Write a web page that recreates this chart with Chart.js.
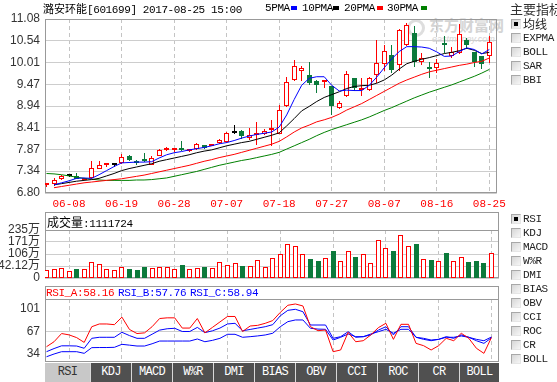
<!DOCTYPE html>
<html><head><meta charset="utf-8">
<script src="https://cdn.jsdelivr.net/npm/chart.js@4.4.0/dist/chart.umd.min.js"></script>
<style>
body{margin:0;background:#fff;width:557px;height:382px;overflow:hidden;position:relative;font-family:"Liberation Sans","Noto Sans CJK SC",sans-serif;}
.abs{position:absolute;white-space:nowrap;}
.m{font-family:"Liberation Mono","Noto Sans CJK SC",monospace;font-size:11px;letter-spacing:-0.4px;line-height:12px;}
.cjk{font-family:"Noto Sans CJK SC",sans-serif;letter-spacing:0;}
canvas{position:absolute;left:0;}
.sw{position:absolute;top:6px;width:6px;height:4px;}
.cb{position:absolute;width:8px;height:8px;border:1px solid;border-color:#a8a8a8 #e6e6e6 #e6e6e6 #a8a8a8;background:linear-gradient(135deg,#d6d6d6,#f6f6f6);}
.cb.on::after{content:'';position:absolute;left:2px;top:2px;width:4px;height:4px;background:#000;}
.tab{position:absolute;top:363px;height:19px;line-height:19px;text-align:center;font-family:"Liberation Mono",monospace;font-size:12px;letter-spacing:-0.7px;}
</style></head><body>
<div class="abs" style="left:405px;top:16px;">
  <div style="position:absolute;left:2px;top:3px;width:12px;height:12px;border:3px solid #dedede;border-radius:50%;"></div>
  <div style="position:absolute;left:24px;top:-2px;font:bold 15px 'Noto Sans CJK SC';color:#d4d4d4;white-space:nowrap;">东方财富网</div>
  <div style="position:absolute;left:27px;top:18px;font:italic 9px 'Liberation Sans';color:#d4d4d4;white-space:nowrap;">eastmoney.com</div>
</div>
<canvas id="c1" width="510" height="212" style="top:0"></canvas>
<canvas id="c2" width="510" height="80" style="top:212px"></canvas>
<canvas id="c3" width="510" height="92" style="top:286px"></canvas>
<div id="ui"></div>
<script>
// ---------- data ----------
const dates = ['06-05','06-06','06-07','06-08','06-09','06-12','06-13','06-14','06-15','06-16',
'06-19','06-20','06-21','06-22','06-23','06-26','06-27','06-28','06-29','06-30',
'07-03','07-04','07-05','07-06','07-07','07-10','07-11','07-12','07-13','07-14',
'07-17','07-18','07-19','07-20','07-21','07-24','07-25','07-26','07-27','07-28',
'07-31','08-01','08-02','08-03','08-04','08-07','08-08','08-09','08-10','08-11',
'08-14','08-15','08-16','08-17','08-18','08-21','08-22','08-23','08-24','08-25'];
const xTickLabels = ['06-08','06-19','06-28','07-07','07-18','07-27','08-07','08-16','08-25'];
const priceTicks = [6.80,7.34,7.87,8.41,8.94,9.47,10.01,10.54,11.08];

const open = [6.99,7.02,7.14,7.23,7.22,7.13,7.17,7.40,7.48,7.49,
7.54,7.71,7.58,7.60,7.50,7.72,7.87,7.85,7.90,7.84,
7.88,7.98,7.96,8.03,8.06,8.27,8.33,8.16,8.23,8.25,
8.36,8.26,8.94,9.58,9.81,9.71,9.56,9.53,9.43,8.90,
9.19,9.62,9.33,9.34,9.71,9.97,10.20,9.95,10.44,10.73,
10.03,9.91,9.88,10.50,10.16,10.24,10.57,10.26,10.18,10.17];
const close = [7.00,7.13,7.22,7.23,7.15,7.14,7.41,7.49,7.49,7.49,
7.68,7.60,7.53,7.58,7.67,7.86,7.88,7.86,7.85,7.85,
8.01,7.90,7.97,8.11,8.27,8.27,8.19,8.23,8.27,8.33,
8.37,8.85,9.54,9.93,9.87,9.50,9.46,9.54,8.94,9.01,
9.72,9.38,9.34,9.62,9.99,10.29,9.83,10.81,10.93,10.03,
10.13,9.85,9.99,10.44,10.28,10.70,10.44,10.03,9.97,10.51];
const high = [7.03,7.17,7.25,7.26,7.29,7.15,7.58,7.59,7.53,7.52,
7.76,7.73,7.60,7.79,7.70,7.88,7.93,7.90,8.09,7.87,
8.04,7.99,7.99,8.13,8.30,8.48,8.35,8.40,8.54,8.37,
8.60,8.97,9.66,10.06,9.93,10.02,9.58,9.58,9.44,9.07,
9.79,9.64,9.62,9.66,10.57,10.45,10.45,10.84,10.97,10.90,
10.25,10.03,10.10,10.66,10.38,10.95,10.61,10.28,10.18,10.66];
const low = [6.95,6.96,7.12,7.20,7.14,7.11,7.15,7.38,7.45,7.45,
7.52,7.58,7.50,7.57,7.48,7.70,7.84,7.82,7.84,7.82,
7.86,7.88,7.95,8.00,8.04,8.26,8.12,8.10,7.97,8.23,
7.96,8.24,8.92,9.56,9.55,9.46,9.27,9.38,8.72,8.86,
9.15,9.30,9.18,9.32,9.50,9.79,9.75,9.79,10.42,9.91,
9.94,9.64,9.76,10.24,10.11,10.22,10.35,9.91,9.85,9.99];

const ma5 = [null,7.00,7.05,7.10,7.16,7.17,7.16,7.25,7.35,7.45,
7.54,7.55,7.56,7.56,7.57,7.66,7.74,7.79,7.82,7.86,
7.89,7.92,7.96,8.01,8.04,8.09,8.15,8.20,8.24,8.27,
8.30,8.42,8.72,9.10,9.45,9.62,9.66,9.66,9.45,9.31,
9.33,9.32,9.32,9.45,9.65,9.88,10.10,10.28,10.40,10.40,
10.39,10.36,10.27,10.16,10.17,10.28,10.37,10.33,10.22,10.33];
const ma10 = [null,7.00,7.03,7.06,7.09,7.11,7.13,7.16,7.22,7.28,
7.35,7.40,7.44,7.48,7.52,7.58,7.62,7.66,7.70,7.74,
7.79,7.83,7.86,7.91,7.96,8.00,8.04,8.07,8.12,8.17,
8.22,8.28,8.45,8.63,8.82,8.93,9.05,9.15,9.22,9.29,
9.37,9.42,9.44,9.45,9.50,9.58,9.70,9.85,9.98,10.04,
10.09,10.13,10.18,10.23,10.26,10.30,10.36,10.31,10.23,10.26];
const ma20 = [null,6.93,6.96,6.99,7.02,7.05,7.07,7.09,7.11,7.13,
7.15,7.18,7.21,7.24,7.28,7.32,7.36,7.40,7.44,7.48,
7.53,7.58,7.62,7.67,7.71,7.75,7.80,7.85,7.90,7.95,
8.00,8.07,8.18,8.30,8.40,8.47,8.55,8.60,8.66,8.74,
8.84,8.92,9.00,9.10,9.20,9.30,9.40,9.50,9.58,9.65,
9.72,9.78,9.82,9.86,9.90,9.94,9.97,10.01,10.04,10.12];
const ma30 = [7.28,7.27,7.25,7.22,7.19,7.16,7.14,7.12,7.11,7.11,
7.11,7.11,7.12,7.12,7.13,7.15,7.17,7.21,7.25,7.29,
7.33,7.38,7.43,7.48,7.52,7.56,7.60,7.63,7.67,7.71,
7.75,7.80,7.88,7.96,8.04,8.12,8.21,8.29,8.36,8.42,
8.48,8.54,8.60,8.67,8.75,8.83,8.90,8.98,9.06,9.14,
9.21,9.28,9.34,9.40,9.46,9.53,9.60,9.67,9.75,9.84];

// volume in 万 (10k shares)
const volume = [22,28,31,17,28,28,63,52,28,22,
36,28,22,36,31,36,36,28,49,28,
31,36,31,63,49,58,43,43,72,36,
84,106,160,150,107,81,67,84,123,70,
123,88,107,58,182,137,123,208,150,162,
79,75,67,114,67,90,61,67,56,111.1724];
const volTickValues = [-22,42.12,106,171,235];
const volTickLabels = ['0','42.12万','106万','171万','235万'];

const rsiA = [44.7,52,64,62,58,51,74,78,78,77,
88,70,64,65,74,86,87,87,72,72,
86,65,73,81,89,89,67,75,76,79,
83,95,105.4,107.3,104.4,74,68.2,69.2,37.4,39.9,
65.8,52,53.5,61.9,72.6,79,55.5,77.5,77.5,49.6,
46.2,39.9,46.2,57,53.5,64.4,57,42.4,35,58.16];
const rsiB = [37.4,42,46,46,45.7,42.4,57,58.5,58.5,58.5,
65.8,61,57,57,63,69,71,71.7,67,67,
73,65.3,68,72,78,79,68,70,72,74,
77,90,98,99.5,96,76.5,76.5,76.5,57,59.4,
66.7,58.5,59.4,62,69,74,62,74,74,58.5,
55.5,53.5,55.5,59.4,57,62,58.5,53.5,49.6,57.76];
const rsiC = [30,34,37.4,37.4,37.4,35,43.3,43.5,43.5,43.8,
48.2,47,45.7,45.7,49,53,53,53,53,53,
56,52,54,57,62.9,62.9,58.5,59.4,60.5,61.9,
64.4,74,81.4,83.9,83.9,71.7,70.5,70.2,54.5,58.5,
63.3,59.4,59.4,63.3,66.7,70.2,64.4,70.2,70.2,58.5,
57,54.5,55.5,58.5,58.5,60.4,58.5,55.5,53.5,58.94];
const rsiTicks = [34,67,101];

const mainIndicators = ['均线','EXPMA','BOLL','SAR','BBI'];
const subIndicators = ['RSI','KDJ','MACD','W%R','DMI','BIAS','OBV','CCI','ROC','CR','BOLL'];
const tabs = ['RSI','KDJ','MACD','W%R','DMI','BIAS','OBV','CCI','ROC','CR','BOLL'];

// ---------- styling ----------
const RED='#ff0000', GREEN='#0b7a3b', DOJI='#000000', BLUE='#0000ff', MAGREEN='#008000';
const idx = dates.map((d,i)=>i);
const tickIdx = xTickLabels.map(l => dates.indexOf(l));
const candleCol = i => close[i]>open[i] ? RED : (close[i]<open[i] ? GREEN : DOJI);
const pts = arr => arr.map((v,i)=>({x:i,y:v}));

const frame = {
  id:'frame',
  beforeDatasetsDraw(chart, args, o){
    chart.data.datasets.forEach((ds, di) => {
      const meta = chart.getDatasetMeta(di);
      if (meta.type !== 'bar') return;
      meta.data.forEach(el => { el.x = Math.floor(el.x)+0.5; el.y = Math.round(el.y); el.base = Math.round(el.base); });
    });
    const {ctx, chartArea:a} = chart;
    ctx.save(); ctx.strokeStyle='#999999'; ctx.lineWidth=1;
    const L=Math.round(a.left)+0.5, R=Math.round(a.right)-0.5, B=Math.round(a.bottom)-0.5;
    const T=(o && o.boxTop!=null ? o.boxTop : Math.round(a.top))+0.5;
    ctx.strokeRect(L,T,R-L,B-T);
    if (o && o.boxTop!=null){ const y=Math.round(a.top)+0.5; ctx.beginPath(); ctx.moveTo(L,y); ctx.lineTo(R,y); ctx.stroke(); }
    ctx.restore();
  }
};

function xScale(show){
  return {
    type:'linear', min:-0.2, max:60, offset:false, bounds:'data',
    afterBuildTicks: s => { s.ticks = tickIdx.map(v=>({value:v})); },
    afterFit: s => { s.height = show ? 19 : 0; },
    ticks:{ display:show, color:'#ff0000', font:{family:'"Liberation Mono", monospace', size:11}, padding:4, autoSkip:false, maxRotation:0, callback: v => dates[v] },
    grid:{ color:'#c4c4c4', drawTicks:false, offset:false, lineWidth:1 },
    border:{ display:false, dash:[4,3] }
  };
}
function yScale(min,max,ticks,labelFn,gridColor){
  return {
    min, max, position:'left', bounds:'data',
    afterBuildTicks: s => { s.ticks = ticks.map(v=>({value:v})); },
    afterFit: s => { s.width = 45; },
    ticks:{ color:'#333', font:{family:'"Liberation Sans", "Noto Sans CJK SC", sans-serif', size:12}, padding:5, autoSkip:false, callback: labelFn },
    grid:{ color: gridColor || '#cdcdcd', drawTicks:false },
    border:{ display:false }
  };
}
const base = { responsive:false, animation:false, devicePixelRatio:1, events:[],
  plugins:{ legend:{display:false}, tooltip:{enabled:false} } };
const line = (arr,color) => ({ type:'line', data:pts(arr), borderColor:color, borderWidth:1, pointRadius:0, tension:0, order:0, spanGaps:false });

// ---------- price chart ----------
new Chart(document.getElementById('c1'), {
  type:'bar',
  data:{ datasets:[
    line(ma5,BLUE), line(ma10,'#000000'), line(ma20,RED), line(ma30,MAGREEN),
    { data: idx.map(i=>({x:i, y:[open[i], close[i]]})), order:1, grouped:false, barThickness:5, minBarLength:2,
      borderSkipped:false, inflateAmount:0, borderWidth:1,
      borderColor: idx.map(candleCol),
      backgroundColor: idx.map(i => candleCol(i)===RED ? '#ffffff' : candleCol(i)) },
    { data: idx.map(i=>({x:i, y:[low[i], high[i]]})), order:2, grouped:false, barThickness:1, borderWidth:0, inflateAmount:0,
      backgroundColor: idx.map(candleCol) }
  ]},
  options: Object.assign({}, base, {
    layout:{ padding:{left:0, top:19, right:11, bottom:0} },
    scales:{ x: xScale(true), y: yScale(6.80, 11.08, priceTicks, v => v.toFixed(2)) },
    plugins: Object.assign({}, base.plugins, { frame:{} })
  }),
  plugins:[frame]
});

// ---------- volume chart ----------
const VMIN = volTickValues[0];
new Chart(document.getElementById('c2'), {
  type:'bar',
  data:{ datasets:[
    { data: idx.map(i=>({x:i, y:volume[i]})), base:VMIN, grouped:false, barThickness:5, borderSkipped:false, inflateAmount:0, borderWidth:1,
      borderColor: idx.map(i => close[i]>=open[i] ? RED : GREEN),
      backgroundColor: idx.map(i => close[i]>=open[i] ? '#ffffff' : GREEN) }
  ]},
  options: Object.assign({}, base, {
    layout:{ padding:{left:0, top:18, right:11, bottom:14} },
    scales:{ x: xScale(false), y: yScale(VMIN, 235, volTickValues, (v,i) => volTickLabels[i]) },
    plugins: Object.assign({}, base.plugins, { frame:{boxTop:0} })
  }),
  plugins:[frame]
});

// ---------- RSI chart ----------
new Chart(document.getElementById('c3'), {
  type:'line',
  data:{ datasets:[ line(rsiA,RED), line(rsiB,BLUE), line(rsiC,BLUE) ] },
  options: Object.assign({}, base, {
    layout:{ padding:{left:0, top:13, right:11, bottom:16} },
    scales:{ x: xScale(false), y: yScale(22.3, 114.6, rsiTicks, v => String(v), c => (c.tick && c.tick.value===67) ? '#cdcdcd' : 'rgba(0,0,0,0)') },
    plugins: Object.assign({}, base.plugins, { frame:{boxTop:0} })
  }),
  plugins:[frame]
});

// ---------- HTML overlay texts ----------
const ui = document.getElementById('ui');
function add(html){ ui.insertAdjacentHTML('beforeend', html); }
add('<div class="abs m" style="left:43px;top:2px;color:#000"><span class="cjk">潞安环能</span>[601699] 2017-08-25 15:00</div>');
add('<div class="abs m" style="left:265px;top:2px">5PMA</div><div class="sw" style="left:291px;background:'+BLUE+'"></div>');
add('<div class="abs m" style="left:302px;top:2px">10PMA</div><div class="sw" style="left:333px;background:#000"></div>');
add('<div class="abs m" style="left:344px;top:2px">20PMA</div><div class="sw" style="left:377px;background:'+RED+'"></div>');
add('<div class="abs m" style="left:387px;top:2px">30PMA</div><div class="sw" style="left:421px;background:'+MAGREEN+'"></div>');
add('<div class="abs m" style="left:47px;top:215px;color:#000;line-height:14px"><span class="cjk" style="font-size:12px">成交量</span>:' + Math.round(volume[59]*10000) + '</div>');
add('<div class="abs m" style="left:46px;top:287px;color:'+RED+'">RSI_A:'+rsiA[59].toFixed(2)+'</div>');
add('<div class="abs m" style="left:118px;top:287px;color:'+BLUE+'">RSI_B:'+rsiB[59].toFixed(2)+'</div>');
add('<div class="abs m" style="left:190px;top:287px;color:'+BLUE+'">RSI_C:'+rsiC[59].toFixed(2)+'</div>');
add('<div class="abs cjk" style="left:510px;top:1px;font-size:13px;color:#333;line-height:16px">主要指标</div>');
mainIndicators.forEach((t,k)=>{
  const cy = 24 + 14*k;
  add('<div class="cb'+(k===0?' on':'')+'" style="left:511px;top:'+(cy-5)+'px"></div>');
  add('<div class="abs m'+(k===0?' cjk':'')+'" style="left:523px;top:'+(cy-6)+'px;color:#222;'+(k===0?'font-size:12px;line-height:12px':'')+'">'+t+'</div>');
});
subIndicators.forEach((t,k)=>{
  const cy = 219 + 14*k;
  add('<div class="cb'+(k===0?' on':'')+'" style="left:511px;top:'+(cy-5)+'px"></div>');
  add('<div class="abs m" style="left:523px;top:'+(cy-6)+'px;color:#222">'+t+'</div>');
});
add('<div class="abs" style="left:45px;top:363px;width:454px;height:19px;background:#d8d8d8"></div>');
tabs.forEach((t,k)=>{
  const left = k===0 ? 45 : 91 + 41*(k-1);
  const w = k===0 ? 45 : (k===tabs.length-1 ? 39 : 40);
  const bg = k===0 ? '#c8c8c8' : '#505050';
  const col = k===0 ? '#333' : '#fff';
  add('<div class="tab" style="left:'+left+'px;width:'+w+'px;background:'+bg+';color:'+col+'">'+t+'</div>');
});
</script>
</body></html>
